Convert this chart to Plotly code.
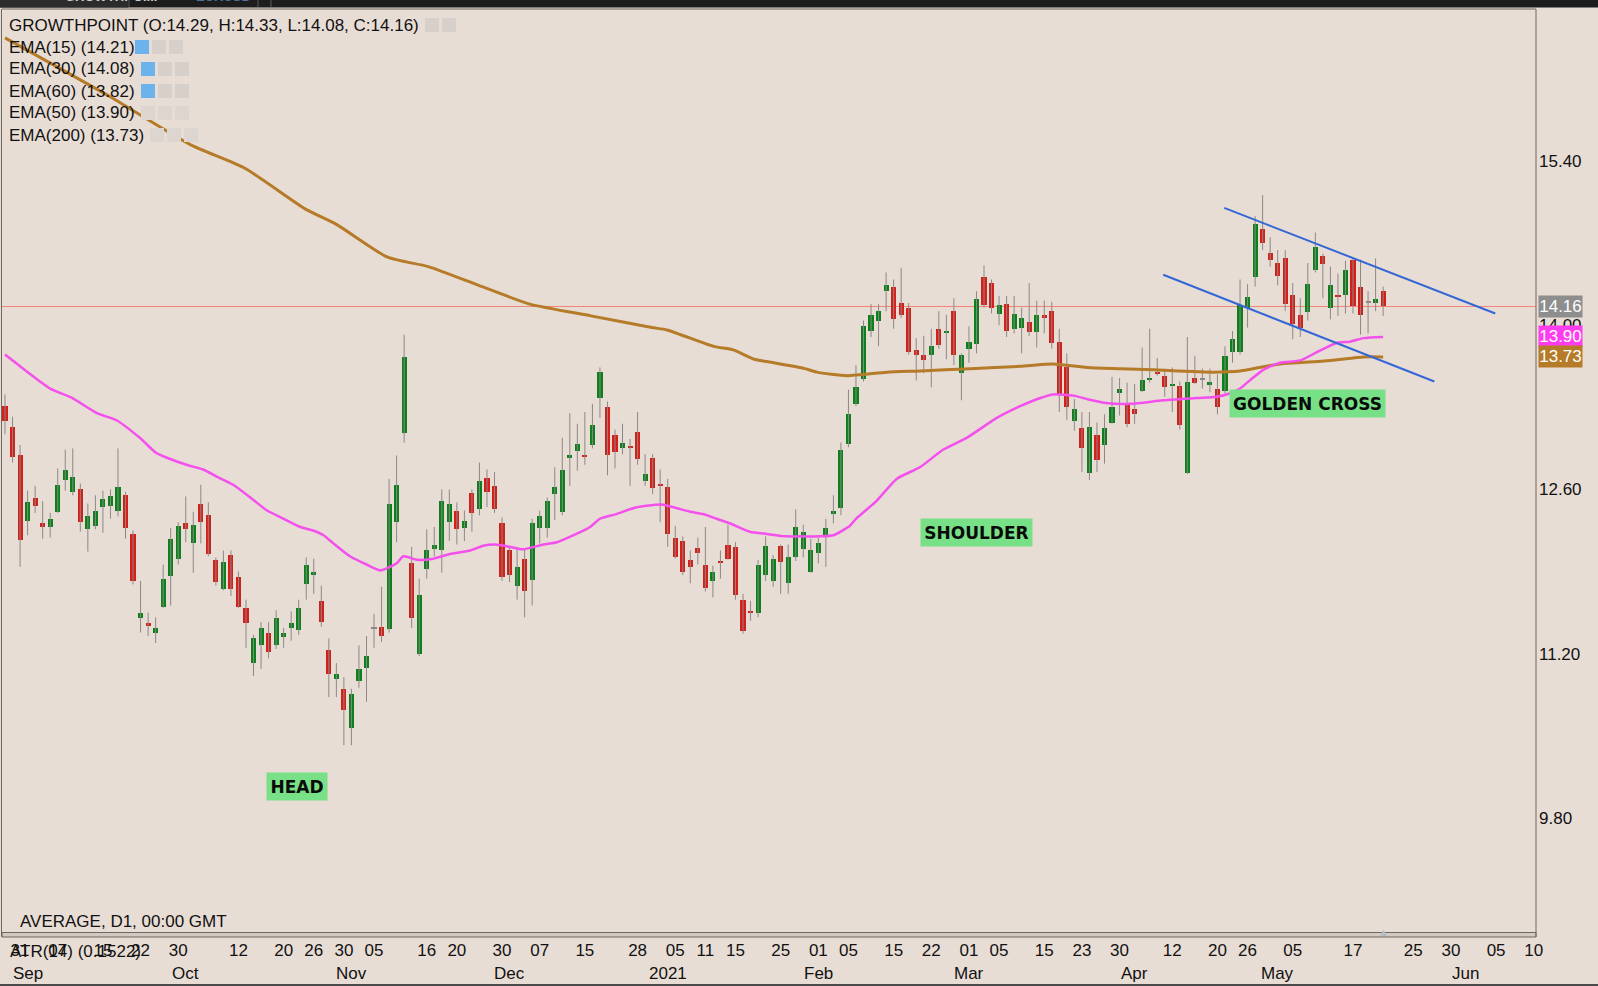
import plotly.graph_objects as go

# ---------------- data ----------------
opens = [13.31, 13.13, 12.89, 12.33, 12.53, 12.31, 12.28, 12.41, 12.68, 12.58,
         12.60, 12.26, 12.29, 12.45, 12.46, 12.42, 12.55, 12.22, 11.50, 11.46,
         11.38, 11.60, 11.86, 12.01, 12.31, 12.14, 12.48, 12.38, 12.00, 11.75,
         12.04, 11.85, 11.59, 11.12, 11.27, 11.38, 11.27, 11.34, 11.42, 11.40,
         11.79, 11.87, 11.65, 11.23, 10.98, 10.90, 10.57, 10.97, 11.08, 11.42,
         11.43, 11.41, 12.32, 13.08, 11.97, 11.20, 11.92, 12.09, 12.08, 12.32,
         12.42, 12.27, 12.57, 12.43, 12.70, 12.63, 12.31, 12.08, 11.78, 12.01,
         11.83, 12.27, 12.27, 12.56, 12.41, 12.87, 12.93, 12.89, 12.98, 13.38,
         13.30, 13.06, 12.95, 12.97, 13.09, 12.67, 12.87, 12.65, 12.62, 12.19,
         12.16, 12.00, 12.10, 11.96, 11.82, 11.99, 12.13, 12.11, 11.66, 11.56,
         11.55, 11.87, 11.82, 12.12, 11.80, 12.02, 12.09, 11.90, 12.06, 12.21,
         12.39, 12.44, 12.99, 13.33, 13.54, 13.95, 14.04, 14.29, 14.33, 14.19,
         14.15, 13.79, 13.75, 13.75, 13.97, 13.94, 14.12, 13.59, 13.80, 13.84,
         14.41, 14.36, 14.10, 14.18, 13.97, 13.98, 14.03, 13.94, 14.09, 14.12,
         13.86, 13.64, 13.18, 13.12, 12.74, 13.06, 12.98, 13.17, 13.42, 13.33,
         13.29, 13.44, 13.53, 13.60, 13.57, 13.48, 13.48, 12.74, 13.55, 13.54,
         13.49, 13.46, 13.44, 13.77, 13.77, 14.15, 14.41, 14.82, 14.62, 14.53,
         14.57, 14.26, 14.09, 14.11, 14.47, 14.59, 14.15, 14.26, 14.26, 14.56,
         14.33, 14.20, 14.19, 14.29]
highs = [13.41, 13.22, 12.98, 12.59, 12.63, 12.50, 12.40, 12.78, 12.94, 12.95,
         12.65, 12.48, 12.55, 12.59, 12.60, 12.95, 12.58, 12.25, 11.82, 11.55,
         11.51, 11.96, 12.27, 12.32, 12.54, 12.41, 12.64, 12.49, 12.02, 12.08,
         12.08, 11.90, 11.66, 11.36, 11.47, 11.47, 11.57, 11.42, 11.56, 11.66,
         12.02, 12.01, 11.78, 11.33, 11.12, 11.00, 10.90, 11.27, 11.35, 11.54,
         11.77, 12.69, 12.89, 13.92, 12.11, 11.84, 12.26, 12.28, 12.60, 12.60,
         12.49, 12.42, 12.60, 12.83, 12.77, 12.75, 12.36, 12.11, 12.11, 12.10,
         12.35, 12.42, 12.53, 12.79, 13.04, 13.25, 13.16, 13.26, 13.33, 13.64,
         13.35, 13.11, 13.16, 13.03, 13.26, 12.90, 12.90, 12.77, 12.69, 12.29,
         12.20, 12.08, 12.19, 12.28, 11.95, 12.08, 12.30, 12.15, 11.71, 11.65,
         12.00, 12.20, 12.04, 12.13, 12.13, 12.43, 12.30, 12.18, 12.19, 12.35,
         12.55, 13.00, 13.45, 13.66, 14.04, 14.18, 14.18, 14.45, 14.39, 14.49,
         14.19, 13.89, 13.91, 13.97, 14.12, 14.09, 14.23, 13.76, 13.99, 14.29,
         14.51, 14.39, 14.25, 14.25, 14.25, 14.15, 14.36, 14.21, 14.21, 14.20,
         13.97, 13.76, 13.37, 13.26, 13.26, 13.17, 13.24, 13.56, 13.55, 13.51,
         13.50, 13.81, 13.97, 13.72, 13.63, 13.64, 13.52, 13.90, 13.74, 13.63,
         13.63, 13.58, 13.82, 13.95, 14.39, 14.35, 14.93, 15.11, 14.75, 14.64,
         14.64, 14.36, 14.23, 14.53, 14.79, 14.61, 14.50, 14.44, 14.55, 14.57,
         14.56, 14.29, 14.57, 14.33]
lows = [13.07, 12.83, 11.94, 12.21, 12.40, 12.18, 12.19, 12.40, 12.59, 12.55,
        12.24, 12.07, 12.26, 12.23, 12.35, 12.37, 12.18, 11.79, 11.38, 11.35,
        11.29, 11.59, 11.61, 11.96, 12.15, 11.89, 12.14, 12.03, 11.78, 11.74,
        11.69, 11.59, 11.25, 11.01, 11.07, 11.16, 11.24, 11.25, 11.31, 11.36,
        11.66, 11.71, 11.43, 10.83, 10.83, 10.42, 10.42, 10.91, 10.79, 11.25,
        11.30, 11.38, 12.15, 13.00, 11.42, 11.18, 11.84, 12.03, 11.89, 12.16,
        12.13, 12.16, 12.24, 12.38, 12.45, 12.40, 11.82, 11.81, 11.66, 11.51,
        11.61, 12.14, 12.19, 12.34, 12.38, 12.63, 12.76, 12.81, 12.95, 13.21,
        12.72, 12.78, 12.90, 12.63, 12.81, 12.63, 12.56, 12.32, 12.11, 12.01,
        11.87, 11.80, 11.96, 11.73, 11.68, 11.84, 12.00, 11.66, 11.37, 11.48,
        11.51, 11.82, 11.77, 11.71, 11.71, 11.99, 12.02, 11.89, 11.97, 11.94,
        12.31, 12.38, 12.96, 13.31, 13.52, 13.90, 13.82, 14.12, 13.97, 14.06,
        13.75, 13.53, 13.59, 13.47, 13.80, 13.71, 13.66, 13.36, 13.68, 13.76,
        14.15, 14.10, 14.00, 13.90, 13.93, 13.76, 13.91, 13.81, 13.93, 13.80,
        13.26, 13.19, 13.10, 12.75, 12.68, 12.75, 12.82, 13.16, 13.23, 13.13,
        13.16, 13.43, 13.51, 13.57, 13.39, 13.26, 13.11, 12.73, 13.50, 13.46,
        13.43, 13.24, 13.42, 13.68, 13.75, 13.98, 14.33, 14.64, 14.50, 14.34,
        14.12, 13.88, 13.90, 14.04, 14.45, 14.23, 14.05, 14.08, 14.10, 14.10,
        13.92, 13.93, 14.12, 14.08]
closes = [13.18, 12.88, 12.17, 12.49, 12.46, 12.28, 12.35, 12.64, 12.77, 12.71,
          12.32, 12.37, 12.42, 12.52, 12.54, 12.62, 12.27, 11.82, 11.55, 11.44,
          11.42, 11.84, 12.18, 12.29, 12.26, 12.30, 12.32, 12.05, 11.81, 11.98,
          11.75, 11.60, 11.46, 11.33, 11.42, 11.21, 11.50, 11.38, 11.46, 11.59,
          11.96, 11.90, 11.47, 11.03, 11.03, 10.72, 10.86, 11.07, 11.18, 11.42,
          11.35, 12.48, 12.64, 13.73, 11.50, 11.70, 12.08, 12.13, 12.50, 12.48,
          12.26, 12.33, 12.40, 12.67, 12.58, 12.43, 11.85, 11.87, 11.94, 11.73,
          12.31, 12.37, 12.50, 12.62, 12.77, 12.89, 12.99, 12.88, 13.15, 13.60,
          12.89, 12.92, 13.00, 12.95, 12.86, 12.73, 12.61, 12.63, 12.22, 12.02,
          11.90, 11.94, 12.06, 11.76, 11.90, 11.97, 12.01, 11.70, 11.39, 11.55,
          11.96, 12.12, 12.01, 11.98, 12.02, 12.28, 12.24, 12.08, 12.14, 12.27,
          12.42, 12.94, 13.24, 13.47, 13.99, 14.09, 14.12, 14.34, 14.05, 14.09,
          13.77, 13.75, 13.70, 13.82, 13.83, 13.95, 13.75, 13.75, 13.86, 14.22,
          14.17, 14.15, 14.17, 13.95, 14.10, 14.06, 13.94, 14.09, 14.06, 13.85,
          13.41, 13.30, 13.29, 12.95, 13.13, 12.85, 13.12, 13.30, 13.46, 13.16,
          13.24, 13.53, 13.55, 13.58, 13.47, 13.50, 13.15, 13.52, 13.51, 13.54,
          13.52, 13.30, 13.74, 13.88, 14.17, 14.24, 14.86, 14.70, 14.56, 14.42,
          14.18, 14.01, 13.98, 14.35, 14.67, 14.52, 14.34, 14.25, 14.47, 14.16,
          14.09, 14.20, 14.22, 14.16]

ema50_pos = [0, 2.0, 6.0, 8.9, 12.2, 14.8, 17.9, 20.1, 21.5, 24.1, 26.3, 28.1, 30.3,
             33.0, 34.8, 37.0, 39.2, 40.9, 42.3, 43.6, 45.8, 48.0, 49.9, 52.0, 52.9,
             54.7, 56.9, 59.1, 61.8, 63.5, 65.1, 67.1, 68.8, 71.5, 73.3, 75.5, 77.7,
             79.0, 81.2, 83.4, 85.2, 87.4, 89.2, 91.0, 92.7, 94.5, 96.3, 98.9, 101.2,
             103.8, 105.6, 108.2, 110.0, 112.2, 113.0, 115.7, 118.4, 121.5, 124.6,
             127.7, 131.7, 134.8, 137.5, 139.2, 141.9, 143.7, 145.9, 149.4, 153.8,
             158.3, 160.9, 162.7, 164.0, 165.3, 167.1, 169.3, 172.0, 174.2, 176.9,
             178.6, 180.4, 183]
ema50_val = [13.75, 13.65, 13.46, 13.38, 13.25, 13.19, 13.04, 12.91, 12.87, 12.81, 12.77,
             12.71, 12.64, 12.51, 12.42, 12.35, 12.28, 12.25, 12.21, 12.14, 12.03, 11.96,
             11.91, 11.97, 12.03, 12.00, 12.01, 12.05, 12.08, 12.12, 12.13, 12.11, 12.09,
             12.13, 12.15, 12.21, 12.28, 12.35, 12.39, 12.44, 12.46, 12.47, 12.44, 12.41,
             12.39, 12.35, 12.31, 12.24, 12.22, 12.20, 12.20, 12.20, 12.21, 12.29, 12.35,
             12.50, 12.69, 12.79, 12.94, 13.04, 13.21, 13.31, 13.38, 13.41, 13.40, 13.37,
             13.34, 13.33, 13.36, 13.38, 13.39, 13.42, 13.46, 13.53, 13.62, 13.68, 13.70,
             13.77, 13.85, 13.86, 13.89, 13.90]
ema200_pos = [0, 13.9, 24.6, 31.8, 39.9, 44.0, 50.8, 56.2, 62.9, 69.7, 77.8, 85.9, 87.9,
              94.1, 96.7, 99.5, 101.2, 106.2, 107.8, 111.8, 117.1, 121.5, 128.2, 134.8,
              139.2, 143.7, 148.1, 152.5, 160.5, 164.0, 169.3, 171.5, 176.0, 180.4, 183]
ema200_val = [16.45, 15.95, 15.54, 15.34, 14.99, 14.86, 14.58, 14.50, 14.34, 14.18, 14.08,
              13.98, 13.96, 13.82, 13.79, 13.71, 13.69, 13.63, 13.60, 13.57, 13.60, 13.61,
              13.63, 13.65, 13.67, 13.64, 13.63, 13.62, 13.60, 13.61, 13.67, 13.68, 13.70,
              13.73, 13.73]

upper_trend_pos = [161.9, 197.9]
upper_trend_val = [15.00, 14.10]
lower_trend_pos = [153.8, 189.8]
lower_trend_val = [14.43, 13.52]

day_tick_pos = [2, 7, 13, 18, 23, 31, 37, 41, 45, 49, 56, 60, 66, 71, 77, 84, 89, 93, 97,
                103, 108, 112, 118, 123, 128, 132, 138, 143, 148, 155, 161, 165, 171, 179,
                187, 192, 198, 203]
day_tick_text = ["31", "07", "15", "22", "30", "12", "20", "26", "30", "05", "16", "20",
                 "30", "07", "15", "28", "05", "11", "15", "25", "01", "05", "15", "22",
                 "01", "05", "15", "23", "30", "12", "20", "26", "05", "17", "25", "30",
                 "05", "10"]
month_pos = [3, 24, 46, 67, 88, 108, 128, 150, 169, 194]
month_text = ["Sep", "Oct", "Nov", "Dec", "2021", "Feb", "Mar", "Apr", "May", "Jun"]
price_ticks = [9.80, 11.20, 12.60, 14.00, 15.40]

pattern_labels = ["HEAD", "SHOULDER", "GOLDEN CROSS"]
pattern_pos = [38.8, 129.0, 173.0]
pattern_val = [10.07, 12.23, 13.33]

legend_lines = ["GROWTHPOINT (O:14.29, H:14.33, L:14.08, C:14.16)",
                "EMA(15) (14.21)", "EMA(30) (14.08)", "EMA(60) (13.82)",
                "EMA(50) (13.90)", "EMA(200) (13.73)"]

# ---------------- layout geometry / styles ----------------
W, H = 1598, 986
ML, MR, MT, MB = 2, 62, 9, 54
PW, PH = W - ML - MR, H - MT - MB
BG = "#e8ddd5"
GREEN, RED, GRAY = "#0b801c", "#d3201b", "#8c8884"
FONT = "Liberation Sans, Arial, sans-serif"


def px_x(x):
    return (x - ML) / PW


def px_y(y):
    return (H - MB - y) / PH


idx = list(range(len(closes)))

fig = go.Figure()

# wicks
wx, wy = [], []
for i, h, l in zip(idx, highs, lows):
    wx += [i, i, None]
    wy += [l, h, None]
fig.add_trace(go.Scatter(x=wx, y=wy, mode="lines", line=dict(color=GRAY, width=1),
                         hoverinfo="skip", showlegend=False))

# bodies
body_h, body_b, body_c = [], [], []
for o, c in zip(opens, closes):
    hgt = max(abs(c - o), 0.012)
    body_h.append(hgt)
    body_b.append((o + c) / 2 - hgt / 2)
    body_c.append(GREEN if c > o else (RED if c < o else GRAY))
fig.add_trace(go.Bar(x=idx, y=body_h, base=body_b, width=0.68,
                     marker=dict(color=body_c, line=dict(width=0)),
                     showlegend=False, hoverinfo="skip"))

# EMAs
fig.add_trace(go.Scatter(x=ema200_pos, y=ema200_val, mode="lines",
                         line=dict(color="#b57b28", width=3, shape="spline", smoothing=0.6),
                         showlegend=False, hoverinfo="skip"))
fig.add_trace(go.Scatter(x=ema50_pos, y=ema50_val, mode="lines",
                         line=dict(color="#f450ee", width=2.5, shape="spline", smoothing=0.6),
                         showlegend=False, hoverinfo="skip"))

# trend channel
for px_, pv_ in ((upper_trend_pos, upper_trend_val), (lower_trend_pos, lower_trend_val)):
    fig.add_trace(go.Scatter(x=px_, y=pv_, mode="lines", line=dict(color="#3467d6", width=2),
                             showlegend=False, hoverinfo="skip"))

shapes = []
# last close line
shapes.append(dict(type="line", xref="paper", yref="y", x0=0, x1=1,
                   y0=closes[-1], y1=closes[-1], line=dict(color="#f28377", width=1), layer="below"))
# borders
border = "#70675f"
shapes.append(dict(type="line", xref="paper", yref="paper", x0=px_x(1.5), x1=px_x(1.5),
                   y0=px_y(937), y1=1, line=dict(color=border, width=1)))
shapes.append(dict(type="line", xref="paper", yref="paper", x0=0, x1=1, y0=1, y1=1,
                   line=dict(color=border, width=1)))
shapes.append(dict(type="rect", xref="paper", yref="paper", x0=0, x1=1,
                   y0=px_y(937), y1=px_y(932.5), fillcolor="#d2c9c2",
                   line=dict(color=border, width=1)))
shapes.append(dict(type="line", xref="paper", yref="paper", x0=1, x1=1,
                   y0=px_y(937), y1=1, line=dict(color=border, width=1)))
# figure bottom edge
shapes.append(dict(type="line", xref="paper", yref="paper", x0=px_x(0), x1=px_x(W),
                   y0=px_y(985), y1=px_y(985), line=dict(color="#4a4a4a", width=2)))
# dark tab strip at top
shapes.append(dict(type="rect", xref="paper", yref="paper", x0=px_x(-2), x1=px_x(W + 2),
                   y0=px_y(7.5), y1=px_y(-2), fillcolor="#1d1d1d", line=dict(width=0)))
shapes.append(dict(type="rect", xref="paper", yref="paper", x0=px_x(0), x1=px_x(128),
                   y0=px_y(7.5), y1=px_y(-2), fillcolor="#2c2c2c", line=dict(width=0)))
for sx in (129, 258, 271):
    shapes.append(dict(type="line", xref="paper", yref="paper", x0=px_x(sx), x1=px_x(sx),
                       y0=px_y(7), y1=px_y(0), line=dict(color="#5a5a5a", width=1)))

# legend icon boxes (eye / gear / close)
icon_rows = [(25, [(425, "#d6cfca"), (442, "#d6cfca")]),
             (47, [(135, "#6cb2ec"), (152, "#d6cfca"), (169, "#d6cfca")]),
             (69, [(141, "#6cb2ec"), (158, "#d6cfca"), (175, "#d6cfca")]),
             (91, [(141, "#6cb2ec"), (158, "#d6cfca"), (175, "#d6cfca")]),
             (113, [(141, "#dcd5d0"), (158, "#dcd5d0"), (175, "#dcd5d0")]),
             (135, [(150, "#dcd5d0"), (167, "#dcd5d0"), (184, "#dcd5d0")])]
for yc, boxes in icon_rows:
    for x0, col in boxes:
        shapes.append(dict(type="rect", xref="paper", yref="paper", x0=px_x(x0), x1=px_x(x0 + 14),
                           y0=px_y(yc + 7), y1=px_y(yc - 7), fillcolor=col, line=dict(width=0)))

annotations = []
for k, txt in enumerate(legend_lines):
    annotations.append(dict(xref="paper", yref="paper", x=px_x(7), y=px_y(25 + 22 * k),
                            xanchor="left", yanchor="middle", text=txt, showarrow=False,
                            font=dict(family=FONT, size=17, color="#111111")))
annotations.append(dict(xref="paper", yref="paper", x=px_x(18), y=px_y(921), xanchor="left",
                        yanchor="middle", text="AVERAGE, D1, 00:00 GMT", showarrow=False,
                        font=dict(family=FONT, size=17, color="#111111")))
annotations.append(dict(xref="paper", yref="paper", x=px_x(8), y=px_y(951), xanchor="left",
                        yanchor="middle", text="ATR(14) (0.1522)", showarrow=False,
                        font=dict(family=FONT, size=17, color="#111111")))
# month row
for mp, mt in zip(month_pos, month_text):
    annotations.append(dict(xref="x", yref="paper", x=mp, y=px_y(973), xanchor="center",
                            yanchor="middle", text=mt, showarrow=False,
                            font=dict(family=FONT, size=17, color="#111111")))
# pattern labels
box_w = [60, 111, 155]
for t, p, v, bw in zip(pattern_labels, pattern_pos, pattern_val, box_w):
    annotations.append(dict(xref="x", yref="y", x=p, y=v, text="<b>%s</b>" % t, showarrow=False,
                            bgcolor="#78e187", width=bw, height=27, borderpad=0,
                            font=dict(family="DejaVu Sans", size=17, color="#0a0a0a")))
# value boxes on price axis
for val, col in ((closes[-1], "#8e8e8e"), (ema50_val[-1], "#ff3cf0"), (ema200_val[-1], "#b57b28")):
    annotations.append(dict(xref="paper", yref="y", x=px_x(1538), y=val, xanchor="left",
                            yanchor="middle", text="%.2f" % val, showarrow=False, bgcolor=col,
                            width=43, height=21, borderpad=0,
                            font=dict(family=FONT, size=17, color="#ffffff")))
# last-bar marker
annotations.append(dict(xref="x", yref="paper", x=idx[-1], y=px_y(931), yanchor="middle",
                        text="▲", showarrow=False, font=dict(size=11, color="#b9bdc1")))
# tabs text (cut by top edge)
annotations.append(dict(xref="paper", yref="paper", x=px_x(63), y=px_y(-3), yanchor="middle",
                        text="<b>GROWTHPOI...</b>", showarrow=False,
                        font=dict(family=FONT, size=13, color="#cfcfcf")))
annotations.append(dict(xref="paper", yref="paper", x=px_x(194), y=px_y(-3), yanchor="middle",
                        text="<b>EURUSD</b>", showarrow=False,
                        font=dict(family=FONT, size=13, color="#4f6f94")))

fig.update_layout(
    width=W, height=H,
    margin=dict(l=ML, r=MR, t=MT, b=MB, pad=0),
    paper_bgcolor=BG, plot_bgcolor=BG,
    showlegend=False, hovermode=False,
    shapes=shapes, annotations=annotations,
    xaxis=dict(range=[-0.4, 203.3], tickmode="array", tickvals=day_tick_pos,
               ticktext=day_tick_text, showgrid=False, zeroline=False, showline=False,
               ticks="", ticklabelstandoff=6,
               tickfont=dict(family=FONT, size=17, color="#111111"), fixedrange=True),
    yaxis=dict(range=[8.827, 16.696], side="right", tickmode="array", tickvals=price_ticks,
               ticktext=["%.2f" % v for v in price_ticks], showgrid=False, zeroline=False,
               showline=False, ticks="", ticklabelstandoff=2,
               tickfont=dict(family=FONT, size=17, color="#111111"), fixedrange=True),
    bargap=0,
)

fig.write_html("out.html", config={"displayModeBar": False},
               post_script="document.body.style.margin='0';document.body.style.padding='0';"
                           "document.body.style.background='%s';" % BG)
